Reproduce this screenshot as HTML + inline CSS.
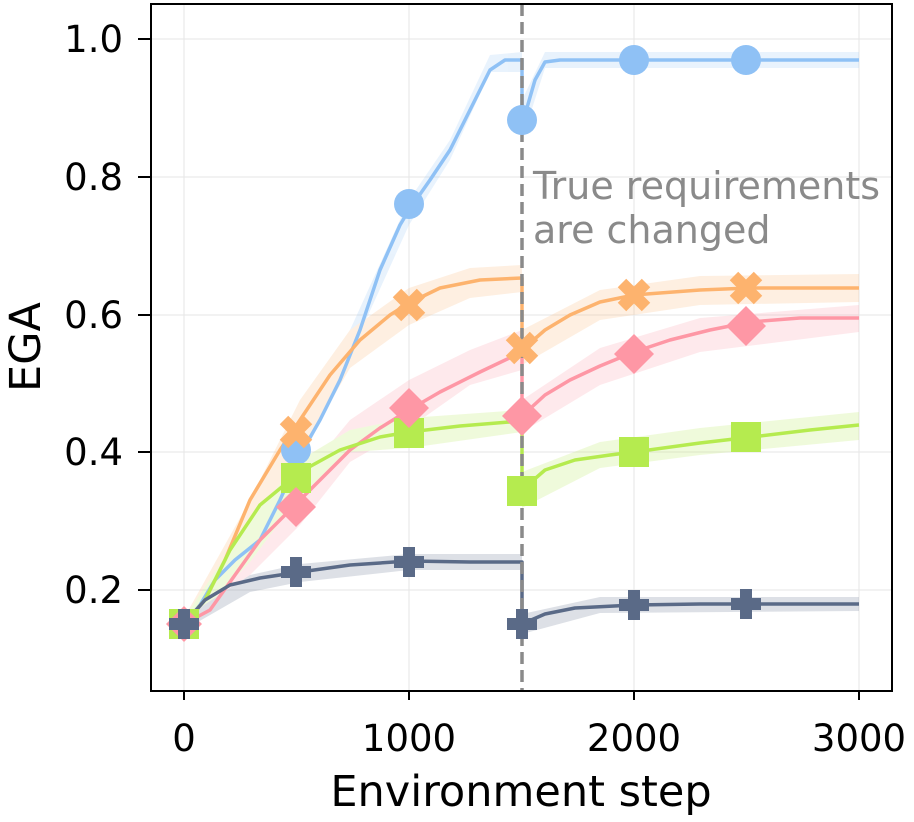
<!DOCTYPE html>
<html><head><meta charset="utf-8"><style>
html,body{margin:0;padding:0;background:#fff;}
svg{display:block;font-family:"DejaVu Sans","Liberation Sans",sans-serif;}
</style></head><body>
<svg width="914" height="822" viewBox="0 0 914 822" xmlns="http://www.w3.org/2000/svg">
<g stroke="#e6e6e6" stroke-width="1">
<line x1="184" y1="4" x2="184" y2="691"/><line x1="409" y1="4" x2="409" y2="691"/><line x1="634" y1="4" x2="634" y2="691"/><line x1="859" y1="4" x2="859" y2="691"/>
<line x1="151" y1="590" x2="892" y2="590"/><line x1="151" y1="452" x2="892" y2="452"/><line x1="151" y1="315" x2="892" y2="315"/><line x1="151" y1="177" x2="892" y2="177"/><line x1="151" y1="39" x2="892" y2="39"/>
</g>
<g opacity="0.2">
<path d="M184,618 L250,535 L300,435 L350,330 L409,200 L450,140 L490,55 L522,52 L522,72 L490,72 L450,160 L409,225 L350,355 L300,465 L250,565 L184,630 Z" fill="#8fc1f5"/>
<path d="M522,100 L545,52 L859,52 L859,68 L545,68 L522,140 Z" fill="#8fc1f5"/>
<path d="M184,618 L250,500 L300,400 L350,330 L409,288 L470,268 L522,265 L522,292 L470,298 L409,325 L350,368 L300,455 L250,545 L184,630 Z" fill="#fdb36e"/>
<path d="M522,330 L600,290 L700,276 L859,274 L859,302 L700,305 L600,320 L522,365 Z" fill="#fdb36e"/>
<path d="M184,618 L250,540 L300,480 L350,420 L409,380 L470,350 L522,330 L522,370 L470,385 L409,428 L350,462 L300,525 L250,575 L184,630 Z" fill="#fe97a5"/>
<path d="M522,400 L600,348 L700,318 L859,305 L859,332 L700,352 L600,385 L522,432 Z" fill="#fe97a5"/>
<path d="M184,618 L250,520 L300,460 L350,430 L409,418 L522,410 L522,432 L409,448 L350,452 L300,495 L250,562 L184,630 Z" fill="#b5eb4f"/>
<path d="M522,472 L600,442 L700,428 L859,412 L859,440 L700,455 L600,468 L522,508 Z" fill="#b5eb4f"/>
<path d="M184,618 L250,575 L300,564 L409,554 L522,554 L522,570 L409,570 L300,582 L250,592 L184,630 Z" fill="#5a6a87"/>
<path d="M522,614 L600,597 L859,597 L859,611 L600,613 L522,634 Z" fill="#5a6a87"/>
</g>
<g fill="none" stroke-width="3.5" stroke-linejoin="round">
<polyline stroke="#8fc1f5" points="184,624 200,605 215,580 235,560 260,540 280,500 300,455 320,420 340,380 360,330 380,270 400,225 409,210 430,180 450,150 470,110 490,70 505,60 522,60 522,125 535,80 545,62 560,60 859,60"/>
<polyline stroke="#fdb36e" points="184,624 205,600 225,560 250,500 280,450 300,420 330,375 360,340 390,315 409,303 440,288 480,280 522,278 522,350 545,330 570,315 600,302 634,295 700,290 750,288 859,288"/>
<polyline stroke="#fe97a5" points="184,624 210,610 235,575 260,540 290,510 320,480 350,450 380,428 409,410 440,392 480,372 522,352 522,416 545,395 570,380 600,366 634,352 670,340 710,330 750,322 800,318 859,318"/>
<polyline stroke="#b5eb4f" points="184,624 205,600 230,550 260,505 300,472 340,450 380,437 409,432 460,426 522,421 522,490 545,470 575,460 610,455 634,452 700,443 760,436 810,430 859,425"/>
<polyline stroke="#5a6a87" points="184,624 205,600 230,585 260,578 300,572 350,565 409,561 470,562 522,562 522,624 545,614 575,608 634,605 700,604 859,604"/>
</g>
<line x1="522" y1="4" x2="522" y2="691" stroke="#8a8a8a" stroke-width="3.5" stroke-dasharray="12,6"/>
<g fill="#8fc1f5">
<circle cx="296" cy="450" r="15"/><circle cx="409" cy="204" r="15"/><circle cx="522" cy="120" r="15"/><circle cx="634" cy="60" r="15"/><circle cx="746" cy="60" r="15"/>
</g>
<g fill="#fdb36e">
<g transform="translate(296,432) rotate(45)"><rect x="-17" y="-6" width="34" height="12"/><rect x="-6" y="-17" width="12" height="34"/></g>
<g transform="translate(409,305) rotate(45)"><rect x="-17" y="-6" width="34" height="12"/><rect x="-6" y="-17" width="12" height="34"/></g>
<g transform="translate(522,348) rotate(45)"><rect x="-17" y="-6" width="34" height="12"/><rect x="-6" y="-17" width="12" height="34"/></g>
<g transform="translate(634,295) rotate(45)"><rect x="-17" y="-6" width="34" height="12"/><rect x="-6" y="-17" width="12" height="34"/></g>
<g transform="translate(746,288) rotate(45)"><rect x="-17" y="-6" width="34" height="12"/><rect x="-6" y="-17" width="12" height="34"/></g>
</g>
<g fill="#b5eb4f">
<rect x="169" y="609" width="30" height="30"/><rect x="281" y="463" width="30" height="30"/><rect x="394" y="418" width="30" height="30"/><rect x="507" y="476" width="30" height="30"/><rect x="619" y="437" width="30" height="30"/><rect x="731" y="422" width="30" height="30"/>
</g>
<g fill="#fe97a5">
<polygon points="184,606 202,624 184,642 166,624"/><polygon points="296,487 316,507 296,527 276,507"/><polygon points="409,388 429,408 409,428 389,408"/><polygon points="522,396 542,416 522,436 502,416"/><polygon points="634,334 654,354 634,374 614,354"/><polygon points="746,306 766,326 746,346 726,326"/>
</g>
<g fill="#5a6a87">
<g transform="translate(184,624)"><rect x="-15" y="-6" width="30" height="12"/><rect x="-6" y="-15" width="12" height="30"/></g>
<g transform="translate(296,572)"><rect x="-15" y="-6" width="30" height="12"/><rect x="-6" y="-15" width="12" height="30"/></g>
<g transform="translate(409,562)"><rect x="-15" y="-6" width="30" height="12"/><rect x="-6" y="-15" width="12" height="30"/></g>
<g transform="translate(522,624)"><rect x="-15" y="-6" width="30" height="12"/><rect x="-6" y="-15" width="12" height="30"/></g>
<g transform="translate(634,605)"><rect x="-15" y="-6" width="30" height="12"/><rect x="-6" y="-15" width="12" height="30"/></g>
<g transform="translate(746,604)"><rect x="-15" y="-6" width="30" height="12"/><rect x="-6" y="-15" width="12" height="30"/></g>
</g>
<g fill="#8a8a8a" font-size="38"><text x="533" y="199">True requirements</text><text x="533" y="243">are changed</text></g>
<rect x="151" y="4" width="741" height="687" fill="none" stroke="#000" stroke-width="2"/>
<g stroke="#000" stroke-width="2">
<line x1="184" y1="691" x2="184" y2="700"/><line x1="409" y1="691" x2="409" y2="700"/><line x1="634" y1="691" x2="634" y2="700"/><line x1="859" y1="691" x2="859" y2="700"/>
<line x1="138" y1="590" x2="151" y2="590"/><line x1="138" y1="452" x2="151" y2="452"/><line x1="138" y1="315" x2="151" y2="315"/><line x1="138" y1="177" x2="151" y2="177"/><line x1="138" y1="39" x2="151" y2="39"/>
</g>
<g font-size="37" fill="#000" text-anchor="middle">
<text x="184" y="751">0</text><text x="409" y="751">1000</text><text x="634" y="751">2000</text><text x="859" y="751">3000</text>
</g>
<g font-size="37" fill="#000" text-anchor="end">
<text x="123" y="603">0.2</text><text x="123" y="465">0.4</text><text x="123" y="328">0.6</text><text x="123" y="190">0.8</text><text x="123" y="52">1.0</text>
</g>
<text x="521" y="806" font-size="43" text-anchor="middle">Environment step</text>
<text transform="translate(40,347) rotate(-90)" font-size="43" text-anchor="middle">EGA</text>
</svg>
</body></html>
